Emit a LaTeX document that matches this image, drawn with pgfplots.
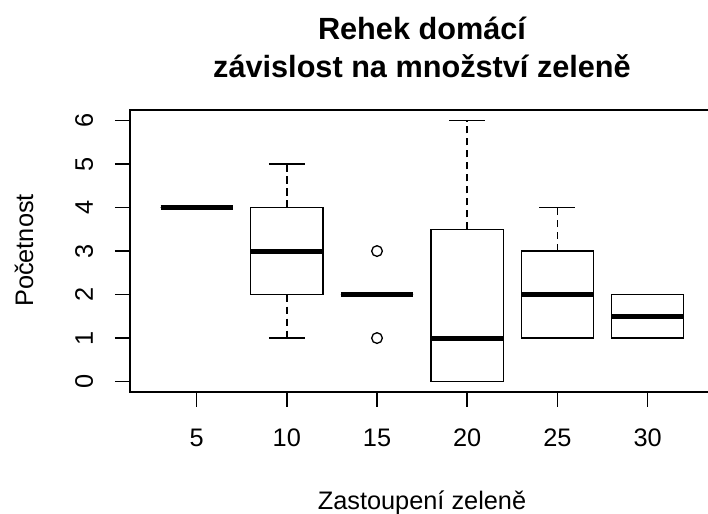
\documentclass[border=0pt]{standalone}
\usepackage{pgfplots}
\pgfplotsset{compat=1.18}
\usepgfplotslibrary{statistics}
\usepackage{fontspec}
\setmainfont{Liberation Sans}
\begin{document}
\begin{tikzpicture}
\path[use as bounding box] (0,0) rectangle (531pt,385.5pt);
\clip (0,0) rectangle (531pt,385.5pt);
\begin{axis}[
  at={(97.4pt,91.5pt)}, anchor=south west,
  x=67.65pt, y=32.625pt,
  xmin=0.26, xmax=6.74, ymin=-0.24, ymax=6.24,
  axis line style={line width=1.1pt, black},
  xtick={1,2,3,4,5,6}, xticklabels={5,10,15,20,25,30},
  ytick={0,1,2,3,4,5,6},
  xtick pos=left, ytick pos=left,
  tick align=outside, major tick length=11.25pt,
  tick style={line width=1.1pt, black},
  /pgf/number format/assume math mode=true,
  tick label style={font=\fontsize{19}{22}\selectfont},
  xticklabel style={anchor=base, yshift=-30pt},
  yticklabel style={xshift=-16.5pt, rotate=90, anchor=base},
  clip=false,
  boxplot/draw direction=y,
  boxplot/box extend=0.8,
  boxplot/whisker extend=0.4,
  boxplot/every box/.style={line width=1.1pt, black},
  boxplot/every median/.style={line width=3.8pt, black},
  boxplot/draw/lower whisker/.code={
    \draw[line width=1.1pt, black, dash pattern=on 5.5pt off 3.5pt]
      (boxplot box cs:\pgfplotsboxplotvalue{lower quartile},0.5) --
      (boxplot box cs:\pgfplotsboxplotvalue{lower whisker},0.5);
    \draw[line width=1.1pt, black]
      (boxplot whisker cs:\pgfplotsboxplotvalue{lower whisker},0) --
      (boxplot whisker cs:\pgfplotsboxplotvalue{lower whisker},1);
  },
  boxplot/draw/upper whisker/.code={
    \draw[line width=1.1pt, black, dash pattern=on 5.5pt off 3.5pt]
      (boxplot box cs:\pgfplotsboxplotvalue{upper quartile},0.5) --
      (boxplot box cs:\pgfplotsboxplotvalue{upper whisker},0.5);
    \draw[line width=1.1pt, black]
      (boxplot whisker cs:\pgfplotsboxplotvalue{upper whisker},0) --
      (boxplot whisker cs:\pgfplotsboxplotvalue{upper whisker},1);
  },
]
\addplot[black, mark=o, mark size=4pt, mark options={line width=1pt}, boxplot prepared={draw position=1, median=4, lower quartile=4, upper quartile=4, lower whisker=4, upper whisker=4}] coordinates {};
\addplot[black, mark=o, mark size=4pt, mark options={line width=1pt}, boxplot prepared={draw position=2, median=3, lower quartile=2, upper quartile=4, lower whisker=1, upper whisker=5}] coordinates {};
\addplot[black, mark=o, mark size=4pt, mark options={line width=1pt}, boxplot prepared={draw position=3, median=2, lower quartile=2, upper quartile=2, lower whisker=2, upper whisker=2}] coordinates {(0,1) (0,3)};
\addplot[black, mark=o, mark size=4pt, mark options={line width=1pt}, boxplot prepared={draw position=4, median=1, lower quartile=0, upper quartile=3.5, lower whisker=0, upper whisker=6}] coordinates {};
\addplot[black, mark=o, mark size=4pt, mark options={line width=1pt}, boxplot prepared={draw position=5, median=2, lower quartile=1, upper quartile=3, lower whisker=1, upper whisker=4}] coordinates {};
\addplot[black, mark=o, mark size=4pt, mark options={line width=1pt}, boxplot prepared={draw position=6, median=1.5, lower quartile=1, upper quartile=2, lower whisker=1, upper whisker=2}] coordinates {};
\end{axis}
\node[anchor=base, font=\fontsize{23}{27}\selectfont\bfseries] at (316.5pt,355.5pt) {Rehek domácí};
\node[anchor=base, font=\fontsize{23}{27}\selectfont\bfseries] at (316.5pt,327pt) {závislost na množství zeleně};
\node[anchor=base, font=\fontsize{19}{22}\selectfont] at (316.5pt,3.5pt) {Zastoupení zeleně};
\node[anchor=base, rotate=90, font=\fontsize{19}{22}\selectfont] at (24.75pt,197.6pt) {Početnost};
\end{tikzpicture}
\end{document}
